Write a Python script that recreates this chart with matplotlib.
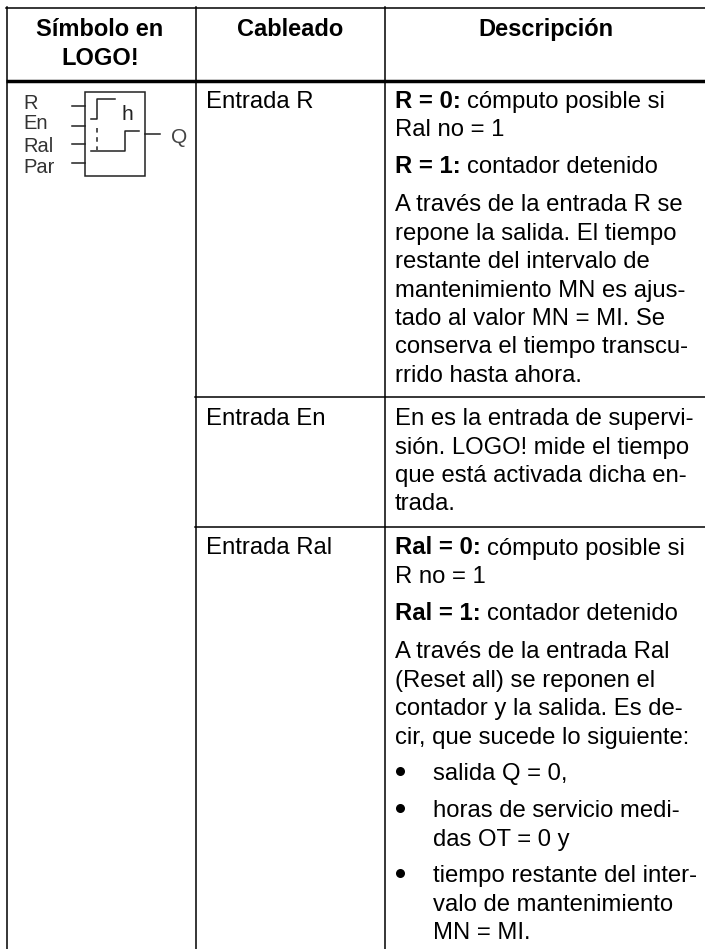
# coding: utf-8
import matplotlib
matplotlib.use("Agg")
import matplotlib.pyplot as plt

W, H = 705, 949
FONT = "Liberation Sans"

headers = [["Símbolo en", "LOGO!"], ["Cableado"], ["Descripción"]]
inputs_label = ["Entrada R", "Entrada En", "Entrada Ral"]
pin_names = ["R", "En", "Ral", "Par"]

# (bold part, normal part) for every line of the description column
desc_lines = [
    ("R = 0:", "cómputo posible si"),
    ("", "Ral no = 1"),
    ("R = 1:", "contador detenido"),
    ("", "A través de la entrada R se"),
    ("", "repone la salida. El tiempo"),
    ("", "restante del intervalo de"),
    ("", "mantenimiento MN es ajus-"),
    ("", "tado al valor MN = MI. Se"),
    ("", "conserva el tiempo transcu-"),
    ("", "rrido hasta ahora."),
    ("", "En es la entrada de supervi-"),
    ("", "sión. LOGO! mide el tiempo"),
    ("", "que está activada dicha en-"),
    ("", "trada."),
    ("Ral = 0:", "cómputo posible si"),
    ("", "R no = 1"),
    ("Ral = 1:", "contador detenido"),
    ("", "A través de la entrada Ral"),
    ("", "(Reset all) se reponen el"),
    ("", "contador y la salida. Es de-"),
    ("", "cir, que sucede lo siguiente:"),
]
bullet_lines = [
    ("salida Q = 0,", True),
    ("horas de servicio medi-", True),
    ("das OT = 0 y", False),
    ("tiempo restante del inter-", True),
    ("valo de mantenimiento", False),
    ("MN = MI.", False),
]

desc_y = [107.5, 136, 173, 211, 239.5, 268, 296.5, 325, 353.5, 382,
          425, 453.5, 482, 510,
          554.5, 583, 620.5, 658, 686.5, 715, 744]
bullet_y = [780, 817, 846, 882, 911, 939]
input_y = [107.5, 425, 554.5]

fig = plt.figure(figsize=(W / 100, H / 100), dpi=100)
ax = fig.add_axes([0, 0, 1, 1])
ax.set_xlim(0, W)
ax.set_ylim(H, 0)
ax.axis("off")

col_x = [6.5, 195.5, 384.5]
ax.plot([6, W], [7.5, 7.5], color="k", lw=1.1)
ax.plot([6, W], [81, 81], color="k", lw=2.5, solid_capstyle="butt")
ax.plot([195, W], [396.5, 396.5], color="k", lw=1.1)
ax.plot([195, W], [527, 527], color="k", lw=1.1)
for x in col_x:
    ax.plot([x, x], [7, H], color="k", lw=1.1)

FS = 17.2
HS = 17.0
ax.text(100, 36, headers[0][0], family=FONT, weight="bold", fontsize=HS, ha="center", va="baseline")
ax.text(100, 65, headers[0][1], family=FONT, weight="bold", fontsize=HS, ha="center", va="baseline")
ax.text(290, 36, headers[1][0], family=FONT, weight="bold", fontsize=HS, ha="center", va="baseline")
ax.text(546, 36, headers[2][0], family=FONT, weight="bold", fontsize=HS, ha="center", va="baseline")

for y, s in zip(input_y, inputs_label):
    ax.text(206.5, y, s, family=FONT, fontsize=FS, va="baseline")

rend = fig.canvas.get_renderer()
for y, (b, s) in zip(desc_y, desc_lines):
    x = 395
    if b:
        t = ax.text(x, y, b, family=FONT, weight="bold", fontsize=FS, va="baseline")
        x = t.get_window_extent(rend).x1 + 6
    ax.text(x, y, s, family=FONT, fontsize=FS, va="baseline")

for y, (s, dot) in zip(bullet_y, bullet_lines):
    ax.text(433, y, s, family=FONT, fontsize=FS, va="baseline")
    if dot:
        ax.plot([400], [y - 9.5], "o", color="k", ms=6.5, mew=0)

# logic block symbol
ax.add_patch(plt.Rectangle((85, 92), 60, 84, fill=False, ec="#222222", lw=1.1))
for y in [106, 125.5, 144, 163]:
    ax.plot([72, 85], [y, y], color="#222222", lw=1.1)
ax.plot([145, 160], [134, 134], color="#222222", lw=1.1)
ax.plot([91, 97, 97, 115], [119, 119, 99, 99], color="#222222", lw=1.1)
ax.plot([91, 125, 125, 139], [151, 151, 131, 131], color="#222222", lw=1.1)
ax.plot([97, 97], [128, 150], color="#222222", lw=1.1, ls=(0, (3, 3)))
ax.text(127.5, 120, "h", family=FONT, fontsize=15, ha="center", va="baseline", color="#222222")
ax.text(179.5, 143, "Q", family=FONT, fontsize=15, ha="center", va="baseline", color="#444444")
for y, s in zip([109, 128.5, 152, 173], pin_names):
    ax.text(23, y, s, family=FONT, fontsize=14.5, va="baseline", color="#333333")

fig.savefig("out.png", dpi=100)
